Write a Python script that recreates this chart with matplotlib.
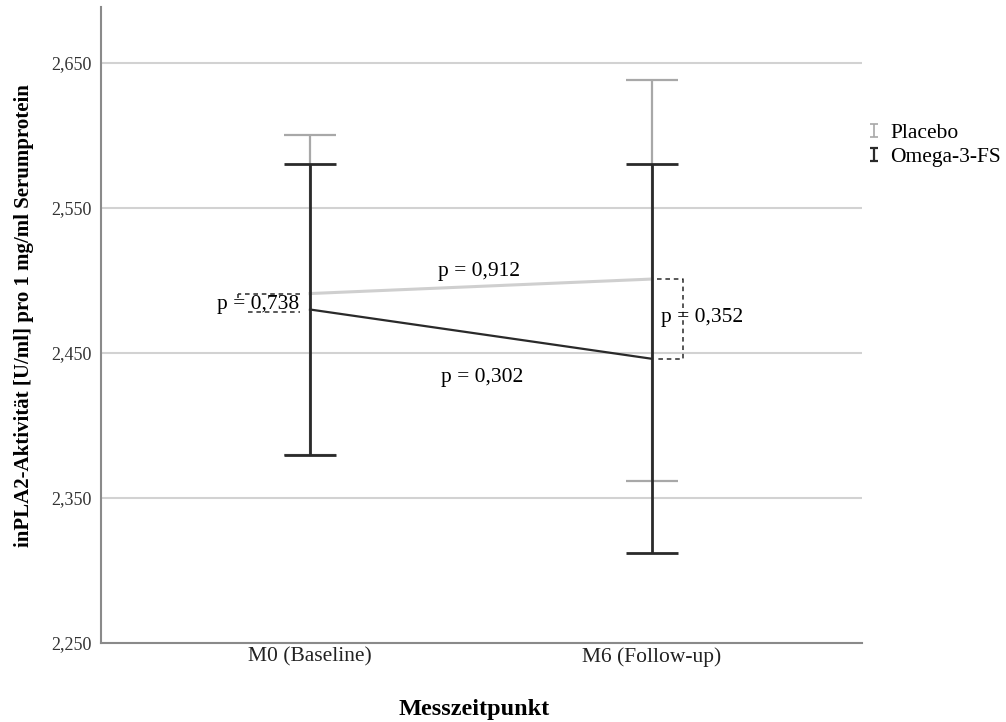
import matplotlib.pyplot as plt
import numpy as np
from matplotlib.ticker import FuncFormatter
from matplotlib.legend_handler import HandlerErrorbar

plt.rcParams['font.family'] = ['Liberation Serif', 'DejaVu Serif']

# Mittelwerte und Fehlerbalken
zeitpunkte = ["M0 (Baseline)", "M6 (Follow-up)"]
placebo_mean = [2.491, 2.501]
placebo_lo = [2.380, 2.362]
placebo_hi = [2.600, 2.638]
omega_mean = [2.480, 2.446]
omega_lo = [2.380, 2.312]
omega_hi = [2.580, 2.580]
y_ticks = [2.25, 2.35, 2.45, 2.55, 2.65]
p_werte = ["0,738", "0,912", "0,302", "0,352"]

PLACEBO_COL = "#a8a8a8"
PLACEBO_LINE = "#cfcfcf"
OMEGA_COL = "#2a2a2a"

fig = plt.figure(figsize=(10.06, 7.22), dpi=100)
ax = fig.add_axes([101 / 1006, 1 - 643 / 722, 761 / 1006, 636 / 722])

x = np.arange(len(zeitpunkte))
pm, om = np.array(placebo_mean), np.array(omega_mean)
p_err = [pm - np.array(placebo_lo), np.array(placebo_hi) - pm]
o_err = [om - np.array(omega_lo), np.array(omega_hi) - om]

ax.plot(x, pm, color=PLACEBO_LINE, lw=2.2, zorder=2)
ax.errorbar(x, pm, yerr=p_err, fmt="none", ecolor=PLACEBO_COL, elinewidth=1.6,
            capsize=18.7, capthick=1.6, zorder=3)
ax.plot(x, om, color=OMEGA_COL, lw=1.6, zorder=4)
ax.errorbar(x, om, yerr=o_err, fmt="none", ecolor=OMEGA_COL, elinewidth=2,
            capsize=18.7, capthick=2, zorder=5)

# p-Wert Klammern
dash = dict(color=OMEGA_COL, lw=1.1, ls=(0, (3, 2.5)), zorder=6)
ax.plot([-0.03, -0.21], [pm[0], pm[0]], **dash)
ax.plot([-0.21, -0.21], [pm[0], pm[0] - 0.003], **dash)
ax.plot([-0.18, -0.03], [om[0] - 0.002, om[0] - 0.002], **dash)
ax.text(-0.03, (pm[0] + om[0]) / 2 - 0.002, "p = " + p_werte[0], ha="right",
        va="center", fontsize=15.5, zorder=7)

ax.plot([1.015, 1.091, 1.091, 1.015], [pm[1], pm[1], om[1], om[1]], **dash)
ax.text(1.026, (pm[1] + om[1]) / 2 + 0.001, "p = " + p_werte[3], ha="left",
        va="center", fontsize=15.5, zorder=7)

ax.text(0.494, (pm[0] + pm[1]) / 2 + 0.01, "p = " + p_werte[1], ha="center",
        va="center", fontsize=15.5)
ax.text(0.503, (om[0] + om[1]) / 2 - 0.03, "p = " + p_werte[2], ha="center",
        va="center", fontsize=15.5)

ax.set_xlim(-209 / 342, 1 + 210 / 342)
ax.set_ylim(2.25, 2.25 + 636 / 1450)
ax.set_xticks(x)
ax.set_xticklabels(zeitpunkte, fontsize=15.5)
ax.set_yticks(y_ticks)
ax.yaxis.set_major_formatter(FuncFormatter(lambda v, _: f"{v:.3f}".replace(".", ",")))
ax.tick_params(axis="y", length=0, pad=7, labelsize=13, colors="#333333")
ax.tick_params(axis="x", length=0, pad=3, colors="#222222")
ax.yaxis.grid(True, color="#d2d2d2", lw=1.5)
ax.set_axisbelow(True)
for s in ["top", "right"]:
    ax.spines[s].set_visible(False)
for s in ["left", "bottom"]:
    ax.spines[s].set_color("#8a8a8a")
    ax.spines[s].set_linewidth(1.5)

ax.set_ylabel("inPLA2-Aktivität [U/ml] pro 1 mg/ml Serumprotein", fontsize=15,
              fontweight="bold")
ax.yaxis.set_label_coords((34 - 101) / 761, (643 - 316) / 636)
ax.set_xlabel("Messzeitpunkt", fontsize=17.5, fontweight="bold")
ax.xaxis.set_label_coords((474 - 101) / 761, -(699 - 643) / 636)

# Legende mit kleinen Fehlerbalken-Symbolen
h1 = ax.errorbar([np.nan], [np.nan], yerr=[1], fmt="none", ecolor=PLACEBO_COL,
                 elinewidth=1.2, capsize=2.9, capthick=1.2)
h2 = ax.errorbar([np.nan], [np.nan], yerr=[1], fmt="none", ecolor=OMEGA_COL,
                 elinewidth=1.6, capsize=2.9, capthick=1.6)
fig.legend([h1, h2], ["Placebo", "Omega-3-FS"], loc="upper left",
           bbox_to_anchor=(858 / 1006, 1 - 112 / 722), frameon=False,
           fontsize=15.5, handlelength=0.5, handletextpad=0.5, labelspacing=0.2,
           borderpad=0, handler_map={type(h1): HandlerErrorbar(yerr_size=0.3)})

fig.savefig("out.png", dpi=100)
